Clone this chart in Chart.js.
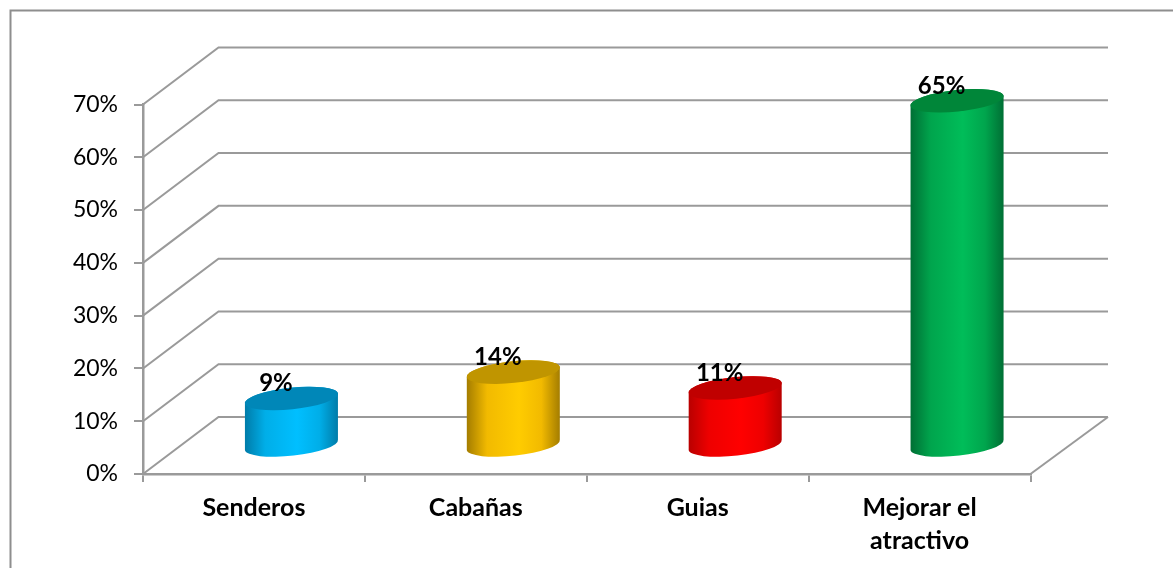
<!DOCTYPE html>
<html>
<head>
<meta charset="utf-8">
<style>html,body{margin:0;padding:0;background:#fff;overflow:hidden}canvas{display:block}</style>
<script src="https://cdn.jsdelivr.net/npm/chart.js@4"></script>
</head>
<body>
<canvas id="c" width="1173" height="568"></canvas>
<script>
const categories = ["Senderos", "Cabañas", "Guias", ["Mejorar el", "atractivo"]];
const values = [9, 14, 11, 65.4];
const edgeColors = ["#007ba8", "#a37c00", "#b80000", "#006e34"];
const shoulderColors = ["#00aee8", "#f2ba00", "#ee0000", "#00a54d"];
const midColors = ["#00bfff", "#ffcc00", "#ff0000", "#00bd59"];
const topColors = ["#0087b8", "#c09500", "#c00000", "#008639"];
const yMax = 70, yStep = 10;

const DX = 75.5, DY = 57, GREY = "#9a9a9a";
const R_A = 46.8, R_B = 10.8, PHI = -6 * Math.PI / 180;
const CX_OFF = 37.5, CY_OFF = 28;

function line(ctx, pts) {
  ctx.beginPath();
  pts.forEach((p, i) => i ? ctx.lineTo(p[0], p[1]) : ctx.moveTo(p[0], p[1]));
  ctx.stroke();
}
const scene = {
  id: "scene",
  beforeDraw(chart) {
    const ctx = chart.ctx;
    ctx.save();
    ctx.fillStyle = "#fff";
    ctx.fillRect(0, 0, chart.width, chart.height);
    ctx.strokeStyle = "#8e8e8e"; ctx.lineWidth = 2;
    line(ctx, [[10.5, chart.height], [10.5, 10.5], [chart.width, 10.5]]);
    ctx.restore();
  },
  beforeDatasetsDraw(chart) {
    const ctx = chart.ctx, y = chart.scales.y, a = chart.chartArea;
    ctx.save();
    ctx.strokeStyle = GREY; ctx.lineWidth = 2;
    for (let v = 0; v <= yMax; v += yStep) {
      const p = y.getPixelForValue(v);
      line(ctx, [[a.left, p], [a.left + DX, p - DY], [a.right + DX + 2, p - DY]]);
    }
    line(ctx, [[a.right, a.bottom], [a.right + DX + 2, a.bottom - DY]]);
    ctx.restore();
  },
  afterDatasetsDraw(chart) {
    const ctx = chart.ctx, meta = chart.getDatasetMeta(0);
    const t0 = Math.atan2(R_B * Math.sin(PHI), R_A * Math.cos(PHI));
    meta.data.forEach((el, i) => {
      const cx = el.x + CX_OFF, topY = el.y - CY_OFF, botY = el.base - CY_OFF;
      const half = el.width / 2;
      const g = ctx.createLinearGradient(cx - half, 0, cx + half, 0);
      g.addColorStop(0, edgeColors[i]);
      g.addColorStop(0.22, shoulderColors[i]);
      g.addColorStop(0.56, midColors[i]);
      g.addColorStop(0.8, shoulderColors[i]);
      g.addColorStop(1, edgeColors[i]);
      ctx.save();
      ctx.beginPath();
      ctx.ellipse(cx, botY, R_A, R_B, PHI, t0, t0 + Math.PI);
      ctx.ellipse(cx, topY, R_A, R_B, PHI, t0 + Math.PI, t0 + 2 * Math.PI);
      ctx.closePath();
      ctx.fillStyle = g;
      ctx.fill();
      ctx.beginPath();
      ctx.ellipse(cx, topY, R_A, R_B, PHI, 0, 2 * Math.PI);
      ctx.fillStyle = topColors[i];
      ctx.fill();
      ctx.restore();
    });
    ctx.save();
    ctx.fillStyle = "#000";
    ctx.font = "bold 24px Lato";
    ctx.textAlign = "center";
    ctx.textBaseline = "middle";
    meta.data.forEach((el, i) => {
      ctx.fillText(Math.round(values[i]) + "%", el.x + 22, el.y - CY_OFF - 15);
    });
    ctx.restore();
  }
};

new Chart(document.getElementById("c"), {
  type: "bar",
  data: {
    labels: categories,
    datasets: [{ data: values, backgroundColor: "rgba(0,0,0,0)", borderWidth: 0,
      categoryPercentage: 1, barPercentage: 0.422 }]
  },
  options: {
    responsive: false,
    animation: false,
    layout: { padding: { top: 104.5, right: 142.5, left: 0, bottom: 0 } },
    plugins: { legend: { display: false }, tooltip: { enabled: false }, title: { display: false } },
    scales: {
      x: {
        afterFit(s) { s.height = 94; },
        offset: true,
        grid: { display: true, drawOnChartArea: false, drawTicks: true, tickLength: 8, color: GREY, lineWidth: 2 },
        border: { color: GREY, width: 2.5 },
        ticks: { color: "#000", padding: 9, maxRotation: 0, autoSkip: false, font: { family: "Lato", weight: "bold", size: 25, lineHeight: 1.32 } }
      },
      y: {
        min: 0, max: yMax,
        afterFit(s) { s.width = 143; },
        grid: { display: true, drawOnChartArea: false, drawTicks: true, tickLength: 9, color: GREY, lineWidth: 2 },
        border: { color: GREY, width: 2.5 },
        ticks: { stepSize: yStep, color: "#000", padding: 16, callback: v => v + "%", font: { family: "Lato", size: 23 } }
      }
    }
  },
  plugins: [scene]
});
</script>
</body>
</html>
